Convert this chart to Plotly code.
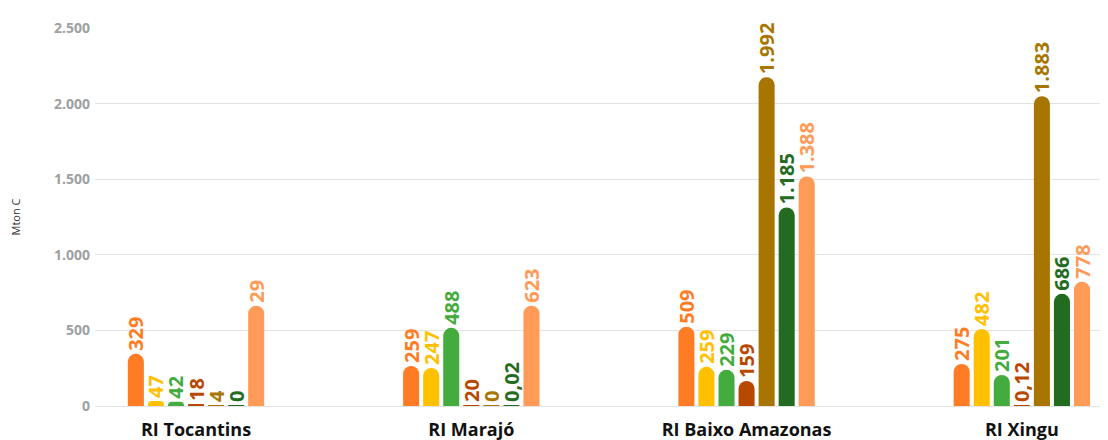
import plotly.graph_objects as go

categories = ["RI Tocantins", "RI Marajó", "RI Baixo Amazonas", "RI Xingu"]
series_names = ["Série 1", "Série 2", "Série 3", "Série 4", "Série 5", "Série 6", "Série 7"]
colors = ["#FF7B24", "#FFC000", "#44AC3E", "#B84800", "#A87500", "#246B22", "#FF9A57"]

# bar heights (Mton C)
values = [
    [345, 33, 28, 8, 3, 3, 663],
    [265, 252, 517, 6, 2, 2, 663],
    [524, 259, 239, 166, 2175, 1313, 1518],
    [278, 510, 205, 2, 2049, 742, 822],
]
# data labels as printed in the picture
labels = [
    ["329", "47", "42", "18", "4", "0", "29"],
    ["259", "247", "488", "20", "0", "0,02", "623"],
    ["509", "259", "229", "159", "1.992", "1.185", "1.388"],
    ["275", "482", "201", "0,12", "1.883", "686", "778"],
]
y_ticks = [0, 500, 1000, 1500, 2000, 2500]

fig = go.Figure()
for s, name in enumerate(series_names):
    fig.add_trace(go.Bar(
        name=name,
        x=categories,
        y=[values[c][s] for c in range(len(categories))],
        text=[labels[c][s] for c in range(len(categories))],
        textposition="outside",
        textangle=-90,
        constraintext="none",
        textfont=dict(family="Open Sans", size=20, color=colors[s], weight="bold"),
        marker=dict(color=colors[s], cornerradius=8, line=dict(width=0)),
        cliponaxis=False,
        hoverinfo="skip",
    ))

fig.update_layout(
    width=1100, height=432,
    margin=dict(l=87, r=0, t=20, b=34),
    barmode="group",
    bargap=0.49,
    bargroupgap=0.2,
    showlegend=False,
    plot_bgcolor="white",
    paper_bgcolor="white",
    separators=",.",
)
fig.update_xaxes(
    range=[-0.367, 3.313],
    showgrid=False,
    showline=False,
    ticks="",
    ticklabelstandoff=11,
    automargin=False,
    tickfont=dict(family="Open Sans", size=18, color="#111111", weight="bold"),
)
fig.update_yaxes(
    range=[0, 2500],
    tickvals=y_ticks,
    tickformat=",d",
    showgrid=True,
    gridcolor="#E3E3E3",
    gridwidth=1,
    zeroline=True,
    zerolinecolor="#E3E3E3",
    zerolinewidth=1,
    tickfont=dict(family="Open Sans", size=14, color="#A0A0A0", weight="bold"),
    ticklabelstandoff=4,
    automargin=False,
    title=dict(text="Mton C", font=dict(family="Open Sans", size=11, color="#333333"), standoff=33),
)

fig.write_html("out.html")
